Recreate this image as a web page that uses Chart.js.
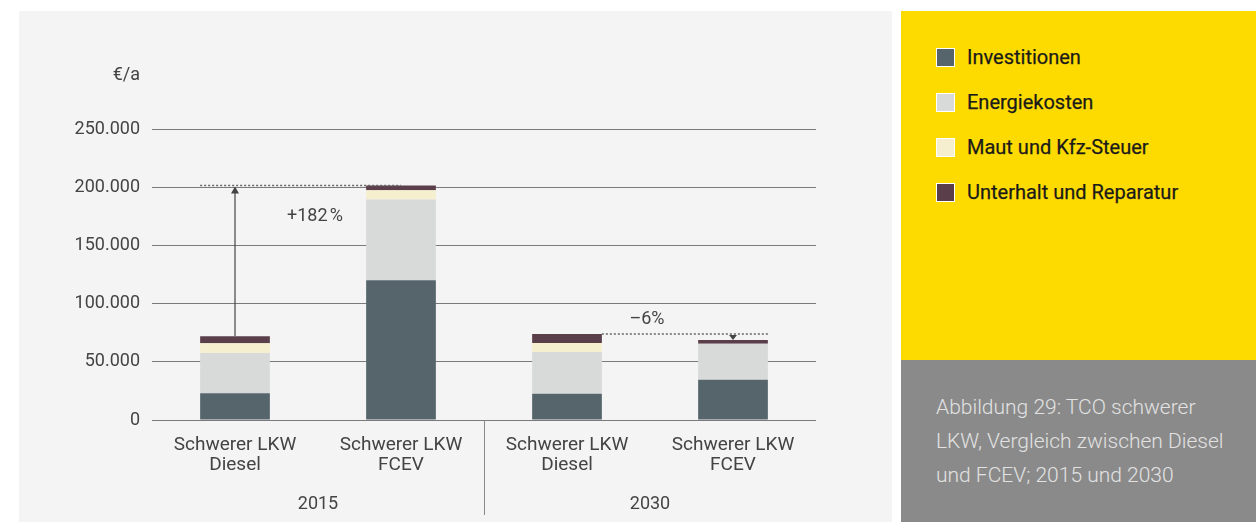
<!DOCTYPE html>
<html>
<head>
<meta charset="utf-8">
<script src="https://cdn.jsdelivr.net/npm/chart.js@4"></script>
<style>
  body { margin: 0; background: #fff; font-family: Roboto, sans-serif; }
  #chartBox { position: absolute; left: 19px; top: 11px; width: 873px; height: 511px; background: #f4f4f4; }
  #legendBox { position: absolute; left: 901px; top: 11px; width: 355px; height: 349px; background: #fedb00; }
  #captionBox { position: absolute; left: 901px; top: 360px; width: 355px; height: 162px; background: #8a8a8a; }
  .item { position: absolute; left: 35px; height: 20px; display: flex; align-items: center; font-size: 20px; color: #1a1a1a; -webkit-text-stroke: 0.25px #1a1a1a; }
  .item span.sw { width: 17px; height: 17px; border: 1px solid #fff; margin-right: 12px; }
  #caption { position: absolute; left: 35px; top: 30px; font-size: 21px; line-height: 34px; color: #e2e2e2; font-weight: 300; white-space: nowrap; }
</style>
</head>
<body>
<div id="chartBox"><canvas id="tcoChart"></canvas></div>
<div id="legendBox"></div>
<div id="captionBox"><div id="caption">Abbildung 29: TCO schwerer<br>LKW, Vergleich zwischen Diesel<br>und FCEV; 2015 und 2030</div></div>
<script>
// Kategorien und Werte (€/a)
var categories = [["Schwerer LKW", "Diesel"], ["Schwerer LKW", "FCEV"], ["Schwerer LKW", "Diesel"], ["Schwerer LKW", "FCEV"]];
var years = ["2015", "2030"];
var investitionen = [23000, 120000, 22500, 34500];
var energiekosten = [34500, 69500, 36000, 31000];
var maut = [8500, 7800, 7700, 0];
var unterhalt = [6000, 4200, 7700, 3300];
var changeLabels = ["+182\u202F%", "\u20136%"];

var fontFamily = "Roboto, sans-serif";
var fontSize = 18;

// Jahre, Trennlinie, Pfeile und Prozentangaben
var extras = {
  id: "extras",
  afterDraw: function (chart) {
    var c = chart.ctx;
    var area = chart.chartArea;
    var x = chart.scales.x;
    var y = chart.scales.y;
    var base = chart.getDatasetMeta(0).data;
    c.save();

    // Einheit
    c.fillStyle = "#444";
    c.font = fontSize + "px " + fontFamily;
    c.textAlign = "right";
    c.textBaseline = "middle";
    c.fillText("\u20ac/a", area.left - 12, 64);

    // Trennlinie zwischen den Jahren
    var sep = (x.getPixelForValue(1) + x.getPixelForValue(2)) / 2;
    c.strokeStyle = "#888";
    c.lineWidth = 1;
    c.beginPath();
    c.moveTo(sep + 0.5, area.bottom);
    c.lineTo(sep + 0.5, chart.height - 7);
    c.stroke();

    // Jahre
    c.textAlign = "center";
    c.fillText(years[0], (area.left + sep) / 2, 493);
    c.fillText(years[1], (sep + area.right) / 2, 493);

    // Gesamtsummen
    var totals = investitionen.map(function (v, i) {
      return v + energiekosten[i] + maut[i] + unterhalt[i];
    });
    var hw = base[0].width / 2;

    // 2015: gestrichelte Linie + Pfeil nach oben
    var yT1 = y.getPixelForValue(totals[1]);
    c.strokeStyle = "#666";
    c.lineWidth = 1.5;
    c.setLineDash([2, 2]);
    c.beginPath();
    c.moveTo(base[0].x - hw, yT1);
    c.lineTo(base[1].x, yT1);
    c.stroke();
    c.setLineDash([]);
    var yT0 = y.getPixelForValue(totals[0]);
    c.strokeStyle = "#444";
    c.lineWidth = 1.2;
    c.beginPath();
    c.moveTo(base[0].x, yT0);
    c.lineTo(base[0].x, yT1 + 6);
    c.stroke();
    c.fillStyle = "#444";
    c.beginPath();
    c.moveTo(base[0].x, yT1 + 1);
    c.lineTo(base[0].x - 4, yT1 + 8);
    c.lineTo(base[0].x + 4, yT1 + 8);
    c.closePath();
    c.fill();

    // 2030: gestrichelte Linie + Pfeil nach unten
    var yT2 = y.getPixelForValue(totals[2]);
    var yT3 = y.getPixelForValue(totals[3]);
    c.strokeStyle = "#666";
    c.lineWidth = 1.5;
    c.setLineDash([2, 2]);
    c.beginPath();
    c.moveTo(base[2].x + hw, yT2);
    c.lineTo(base[3].x + hw, yT2);
    c.stroke();
    c.setLineDash([]);
    c.beginPath();
    c.moveTo(base[3].x, yT3);
    c.lineTo(base[3].x - 4, yT2 + 1);
    c.lineTo(base[3].x + 4, yT2 + 1);
    c.closePath();
    c.fill();

    // Prozentangaben
    c.fillStyle = "#444";
    c.fillText(changeLabels[0], (base[0].x + base[1].x) / 2 - 3, yT1 + 31);
    c.fillText(changeLabels[1], (base[2].x + base[3].x) / 2 - 3, yT2 - 14);
    c.restore();
  }
};

var ctx = document.getElementById("tcoChart");
var chart = new Chart(ctx, {
  type: "bar",
  data: {
    labels: categories,
    datasets: [
      { label: "Investitionen", data: investitionen, backgroundColor: "#56656c" },
      { label: "Energiekosten", data: energiekosten, backgroundColor: "#d8dad9" },
      { label: "Maut und Kfz-Steuer", data: maut, backgroundColor: "#f5efcf" },
      { label: "Unterhalt und Reparatur", data: unterhalt, backgroundColor: "#5a3f4a" }
    ]
  },
  options: {
    responsive: true,
    maintainAspectRatio: false,
    animation: false,
    layout: { padding: { top: 118, right: 76, bottom: 42, left: 0 } },
    datasets: { bar: { barPercentage: 0.42, categoryPercentage: 1 } },
    plugins: { legend: { display: false }, tooltip: { enabled: false } },
    scales: {
      x: {
        stacked: true,
        grid: { display: false, drawTicks: false },
        border: { display: false },
        ticks: { color: "#444", font: { size: 19, family: fontFamily, lineHeight: 1.05 }, padding: 15, maxRotation: 0 },
        afterFit: function (scale) { scale.height = 60; }
      },
      y: {
        stacked: true,
        min: 0,
        max: 250000,
        grid: { color: "#7a7a7a", lineWidth: 1, drawTicks: false },
        border: { display: false },
        ticks: {
          stepSize: 50000,
          color: "#444",
          padding: 12,
          font: { size: fontSize, family: fontFamily },
          callback: function (v) { return v.toLocaleString("de-DE"); }
        },
        afterFit: function (scale) { scale.width = 133; }
      }
    }
  },
  plugins: [extras]
});

// Legende im gelben Kasten
var legendBox = document.getElementById("legendBox");
chart.data.datasets.forEach(function (ds, i) {
  var row = document.createElement("div");
  row.className = "item";
  row.style.top = (36 + i * 45) + "px";
  row.innerHTML = '<span class="sw" style="background:' + ds.backgroundColor + '"></span>' + ds.label;
  legendBox.appendChild(row);
});
</script>
</body>
</html>
